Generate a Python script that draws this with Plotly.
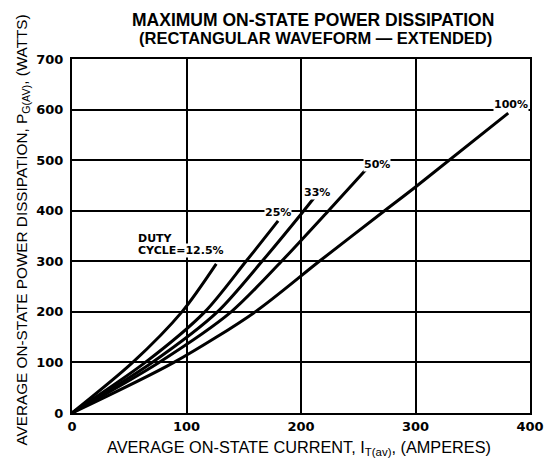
import plotly.graph_objects as go

# Duty-cycle curves: average current (A) vs average power (W)
current_12_5 = [0, 53, 96, 126]
power_12_5 = [0, 100, 200, 295]

current_25 = [0, 64, 116, 152, 180]
power_25 = [0, 100, 200, 300, 380]

current_33 = [0, 70, 127, 166, 200, 213]
power_33 = [0, 100, 200, 300, 393, 430]

current_50 = [0, 76, 139, 183, 224, 257]
power_50 = [0, 100, 200, 300, 400, 482]

current_100 = [0, 89, 160, 216, 273, 300, 381]
power_100 = [0, 100, 200, 300, 400, 447, 593]

x_ticks = [0, 100, 200, 300, 400]
y_ticks = [0, 100, 200, 300, 400, 500, 600, 700]

series = [
    (current_12_5, power_12_5),
    (current_25, power_25),
    (current_33, power_33),
    (current_50, power_50),
    (current_100, power_100),
]

fig = go.Figure()
for xs, ys in series:
    fig.add_trace(go.Scatter(x=xs, y=ys, mode="lines",
                             line=dict(color="black", width=3, shape="spline", smoothing=0.8),
                             showlegend=False, hoverinfo="skip"))

lab_font = dict(family="DejaVu Sans, sans-serif", size=11, color="black", weight="bold")

def lab(x, y, text, xanchor="center"):
    fig.add_annotation(x=x, y=y, xref="x", yref="y", text=text, showarrow=False,
                       font=lab_font, bgcolor="white", xanchor=xanchor, borderpad=0)

lab(383, 611, "100%")
lab(266, 492, "50%")
lab(214, 437, "33%")
lab(180, 397, "25%")
lab(57, 346, "DUTY", xanchor="left")
lab(57, 322, "CYCLE=12.5%", xanchor="left")

axis_common = dict(
    showgrid=True, gridcolor="black", gridwidth=2,
    showline=True, linecolor="black", linewidth=2, mirror=True,
    zeroline=False, ticks="",
    tickfont=dict(family="DejaVu Sans, sans-serif", size=13, color="black", weight="bold"),
)

fig.update_xaxes(range=[0, 400], tickvals=x_ticks, **axis_common)
fig.update_yaxes(range=[0, 700], tickvals=y_ticks, ticklabelstandoff=4, **axis_common)

fig.update_layout(
    width=556, height=462,
    margin=dict(l=72, r=14, t=59, b=49),
    paper_bgcolor="white", plot_bgcolor="white",
)

fig.add_annotation(x=0.526, y=1.110, xref="paper", yref="paper", yanchor="middle",
                   text="MAXIMUM ON-STATE POWER DISSIPATION", showarrow=False,
                   font=dict(family="Liberation Sans, Arial, sans-serif", size=17.5,
                             color="black", weight="bold"))
fig.add_annotation(x=0.532, y=1.059, xref="paper", yref="paper", yanchor="middle",
                   text="(RECTANGULAR WAVEFORM — EXTENDED)", showarrow=False,
                   font=dict(family="Liberation Sans, Arial, sans-serif", size=16.5,
                             color="black", weight="bold"))

fig.add_annotation(
    x=-0.133, y=0.517, xref="paper", yref="paper",
    text="AVERAGE ON-STATE POWER DISSIPATION, P<sub>G(AV)</sub>, (WATTS)",
    textangle=-90, showarrow=False,
    font=dict(family="Liberation Sans, Arial, sans-serif", size=15.3, color="black"),
)
fig.add_annotation(
    x=0.496, y=-0.099, xref="paper", yref="paper", yanchor="middle",
    text="AVERAGE ON-STATE CURRENT, I<sub>T(av)</sub>, (AMPERES)",
    showarrow=False,
    font=dict(family="Liberation Sans, Arial, sans-serif", size=16.3, color="black"),
)

fig.write_html("out.html", config={"displayModeBar": False},
               post_script="document.body.style.margin='0px';")
